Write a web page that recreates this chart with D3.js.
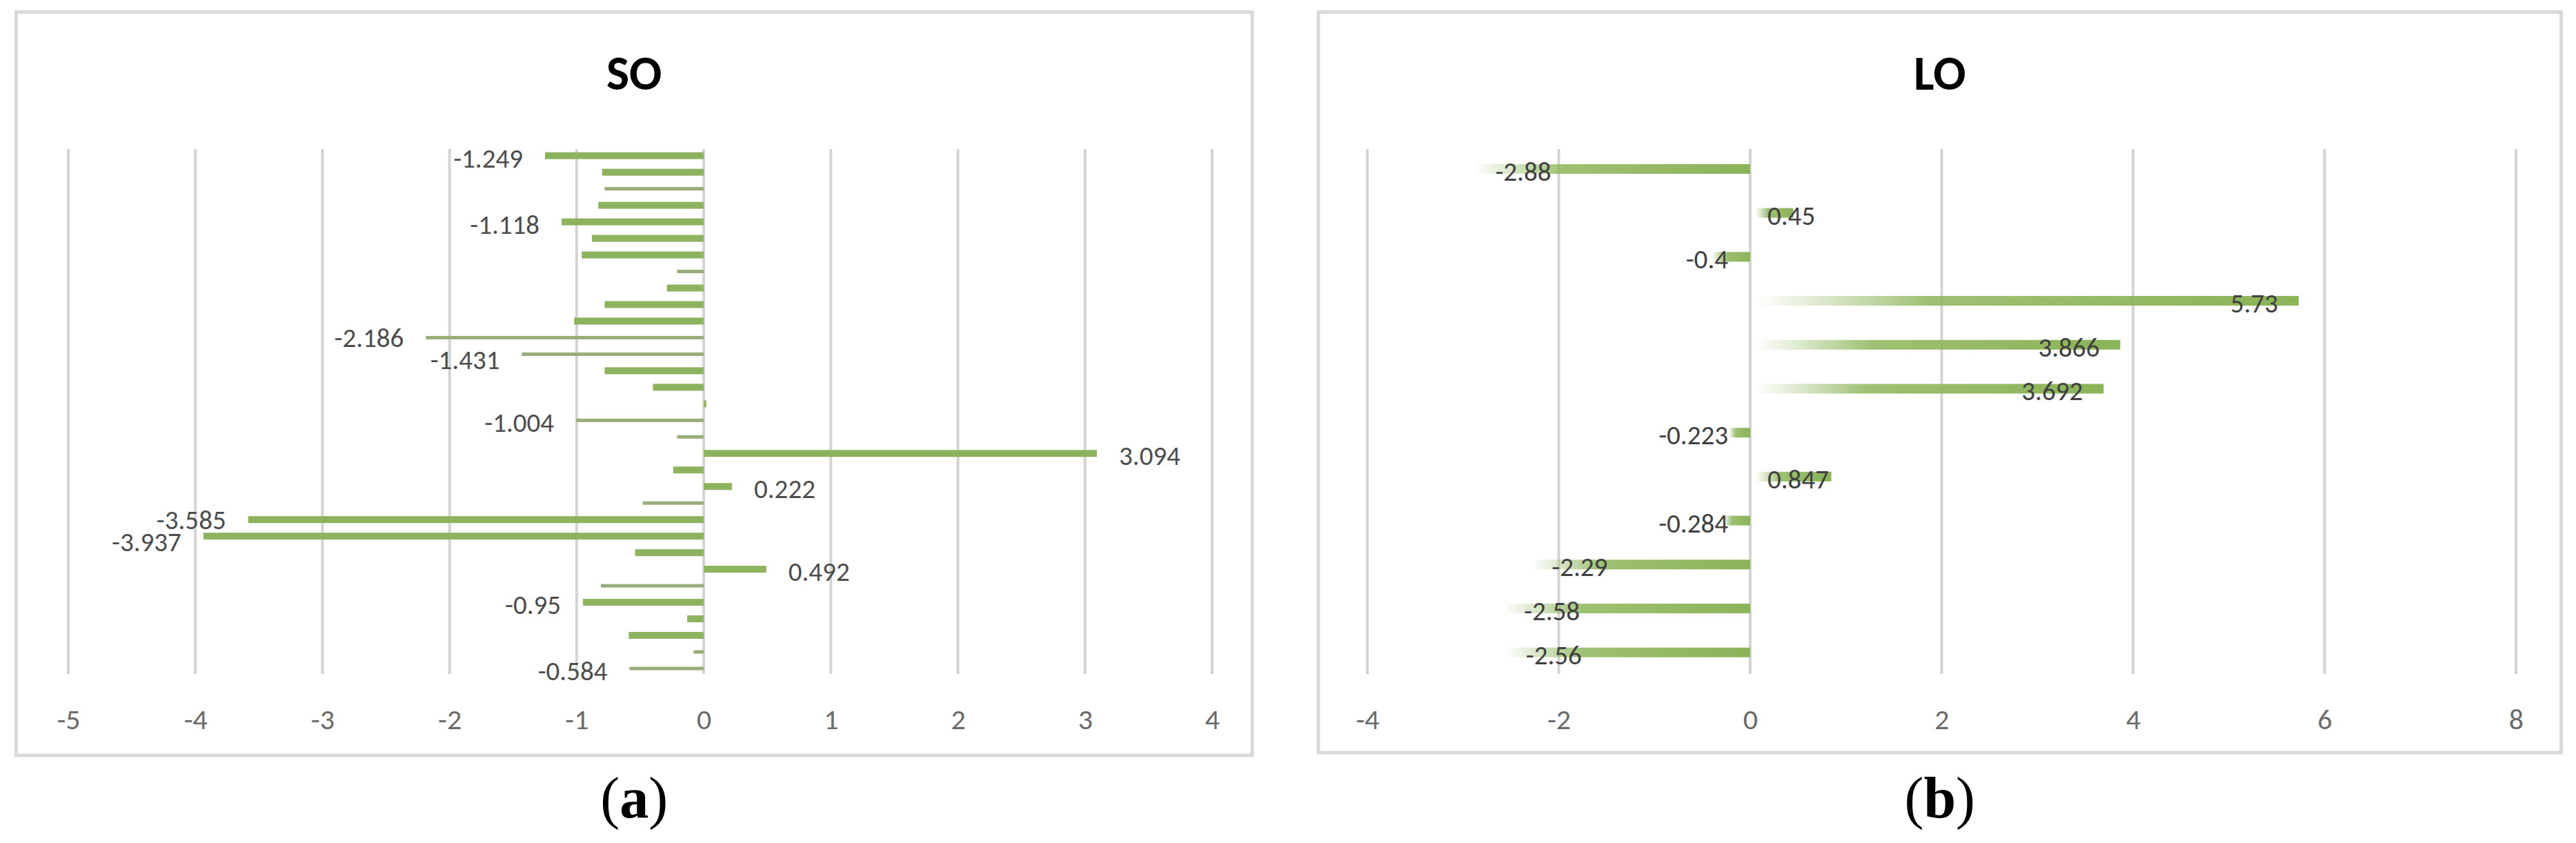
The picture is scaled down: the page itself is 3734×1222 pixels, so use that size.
<!DOCTYPE html>
<html><head><meta charset="utf-8">
<script src="https://cdn.jsdelivr.net/npm/d3@7"></script>
<style>body{margin:0;background:#fff}svg{display:block}</style>
</head><body>
<svg id="chart" width="3734" height="1222"></svg>
<script>
// ---------- data ----------
const soCategories = ["1","2","3","4","5","6","7","8","9","10","11","12","13","14","15","16",
                      "17","18","19","20","21","22","23","24","25","26","27","28","29","30","31","32"];
const soValues = [-1.249, -0.80, -0.78, -0.83, -1.118, -0.88, -0.96, -0.21, -0.29, -0.78, -1.02,
                  -2.186, -1.431, -0.78, -0.40, 0.02, -1.004, -0.21, 3.094, -0.24, 0.222, -0.48,
                  -3.585, -3.937, -0.54, 0.492, -0.81, -0.95, -0.13, -0.59, -0.08, -0.584];
const soLabeled = [0, 4, 11, 12, 16, 18, 20, 22, 23, 25, 27, 31];
const soTicks = [-5, -4, -3, -2, -1, 0, 1, 2, 3, 4];

const loCategories = ["1","2","3","4","5","6","7","8","9","10","11","12"];
const loValues = [-2.88, 0.45, -0.4, 5.73, 3.866, 3.692, -0.223, 0.847, -0.284, -2.29, -2.58, -2.56];
const loTicks = [-4, -2, 0, 2, 4, 6, 8];

const panelTitles = ["SO", "LO"];
const panelCaptions = ["a", "b"];

// ---------- styling / layout ----------
const FONT = "Carlito, Calibri, Lato, 'Open Sans', sans-serif";
const soThinRows = new Set([2, 7, 11, 12, 16, 17, 21, 26, 30, 31]);
const svg = d3.select("#chart");
svg.append("rect").attr("width", 3734).attr("height", 1222).attr("fill", "#fff");

const defs = svg.append("defs");
const grad = defs.append("linearGradient").attr("id", "loGrad")
  .attr("x1", 0).attr("x2", 1).attr("y1", 0).attr("y2", 0);
grad.append("stop").attr("offset", 0).attr("stop-color", "#8db55a").attr("stop-opacity", 0.0);
grad.append("stop").attr("offset", 0.12).attr("stop-color", "#8db55a").attr("stop-opacity", 0.3);
grad.append("stop").attr("offset", 0.32).attr("stop-color", "#8db55a").attr("stop-opacity", 0.85);
grad.append("stop").attr("offset", 1).attr("stop-color", "#8bb357").attr("stop-opacity", 1);

function drawFrame(f, title, caption) {
  svg.append("rect").attr("x", f.x0).attr("y", f.y0)
    .attr("width", f.x1 - f.x0).attr("height", f.y1 - f.y0)
    .attr("fill", "none").attr("stroke", "#d9d9d9").attr("stroke-width", 5);
  const cx = (f.x0 + f.x1) / 2;
  svg.append("text").attr("x", cx).attr("y", 130).attr("text-anchor", "middle")
    .attr("font-family", FONT).attr("font-weight", "bold").attr("font-size", 70)
    .attr("fill", "#000").text(title);
  const cap = svg.append("text").attr("x", cx).attr("y", 1185).attr("text-anchor", "middle")
    .attr("font-family", "'Liberation Serif', 'Times New Roman', serif").attr("font-size", 84)
    .attr("fill", "#000");
  cap.append("tspan").text("(");
  cap.append("tspan").attr("font-weight", "bold").text(caption);
  cap.append("tspan").text(")");
}

function drawAxes(x, ticks, gTop, gBot) {
  const g = svg.append("g");
  g.selectAll("line.grid").data(ticks).join("line")
    .attr("x1", d => x(d)).attr("x2", d => x(d))
    .attr("y1", gTop).attr("y2", gBot)
    .attr("stroke", "#d4d4d4").attr("stroke-width", 4);
  const ax = svg.append("g").attr("transform", `translate(0,${1042})`)
    .call(d3.axisBottom(x).tickValues(ticks).tickSize(0).tickFormat(d => String(d)));
  ax.select(".domain").remove();
  ax.selectAll("text").attr("font-family", FONT).attr("font-size", 42)
    .attr("fill", "#6b6b6b").attr("dy", "0.35em").attr("y", 0);
}

// ---------- SO panel ----------
(function () {
  const f = {x0: 23.5, y0: 17.5, x1: 1815, y1: 1095};
  drawFrame(f, panelTitles[0], panelCaptions[0]);
  const x = d3.scaleLinear().domain([-5, 4]).range([99, 1757]);
  const y = d3.scaleBand().domain(soCategories).range([213.7, 981]).padding(0);
  drawAxes(x, soTicks, 216, 977);
  const rows = soCategories.map((c, i) => ({c, v: soValues[i], i}));
  svg.append("g").selectAll("rect").data(rows).join("rect")
    .attr("x", d => x(Math.min(0, d.v)))
    .attr("width", d => Math.abs(x(d.v) - x(0)))
    .attr("y", d => y(d.c) + y.bandwidth() / 2 - (soThinRows.has(d.i) ? 2.5 : 5))
    .attr("height", d => soThinRows.has(d.i) ? 5 : 10)
    .attr("fill", d => soThinRows.has(d.i) ? "#97ae7a" : "#8db35e");
  const labeled = rows.filter(d => soLabeled.includes(d.i));
  // simple collision nudge: when two labels sit on adjacent rows, push them apart
  const nudge = new Map();
  labeled.forEach((d, k) => {
    const prev = labeled[k - 1];
    if (prev && d.i - prev.i === 1) {
      nudge.set(prev.i, (nudge.get(prev.i) || 0) - 3);
      nudge.set(d.i, (nudge.get(d.i) || 0) + 5);
    }
  });
  svg.append("g").selectAll("text").data(labeled).join("text")
    .attr("x", d => d.v < 0 ? x(d.v) - 32 : x(d.v) + 32)
    .attr("y", d => y(d.c) + y.bandwidth() / 2 + 17 + (nudge.get(d.i) || 0))
    .attr("text-anchor", d => d.v < 0 ? "end" : "start")
    .attr("font-family", FONT).attr("font-size", 39).attr("fill", "#4d4d4d")
    .text(d => String(d.v));
})();

// ---------- LO panel ----------
(function () {
  const f = {x0: 1911, y0: 17.5, x1: 3712.5, y1: 1091};
  drawFrame(f, panelTitles[1], panelCaptions[1]);
  const x = d3.scaleLinear().domain([-4, 8]).range([1982, 3647]);
  const y = d3.scaleBand().domain(loCategories).range([213.1, 977.6]).padding(0);
  drawAxes(x, loTicks, 216, 977);
  const rows = loCategories.map((c, i) => ({c, v: loValues[i], i}));
  svg.append("g").selectAll("rect").data(rows).join("rect")
    .attr("x", d => x(Math.min(0, d.v)) + (d.v > 0 ? 8 : 0))
    .attr("width", d => Math.abs(x(d.v) - x(0)) - (d.v > 0 ? 8 : 0))
    .attr("y", d => y(d.c) + y.bandwidth() / 2 - 7)
    .attr("height", 14)
    .attr("fill", "url(#loGrad)");
  const labels = svg.append("g").selectAll("text").data(rows).join("text")
    .attr("y", d => y(d.c) + y.bandwidth() / 2 + 17)
    .attr("font-family", FONT).attr("font-size", 39).attr("fill", "#404040")
    .text(d => String(d.v));
  const z = x(0);
  labels.each(function (d) {
    const w = this.getComputedTextLength();
    const t = d3.select(this);
    const xe = x(d.v);
    if (d.v < 0) {
      if (xe + 30 + w < z - 32) t.attr("x", xe + 30).attr("text-anchor", "start");
      else t.attr("x", z - 32).attr("text-anchor", "end");
    } else {
      if (xe - 30 - w > z + 25) t.attr("x", xe - 30).attr("text-anchor", "end");
      else t.attr("x", z + 25).attr("text-anchor", "start");
    }
  });
})();
</script>
</body></html>
